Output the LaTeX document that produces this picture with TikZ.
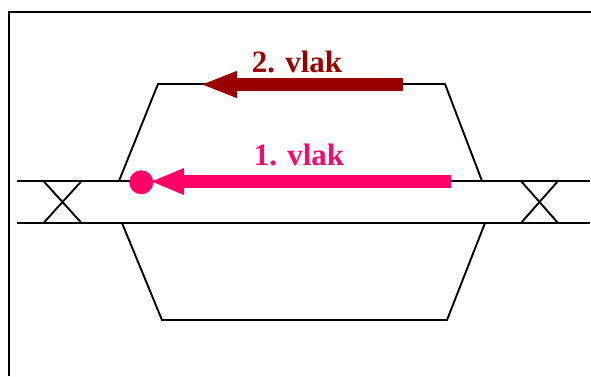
\documentclass[tikz,border=0pt]{standalone}
\usepackage{fontspec}
\setmainfont{Liberation Serif}
\usetikzlibrary{arrows.meta}
\definecolor{darkred}{HTML}{990000}
\definecolor{hotpink}{HTML}{FF0066}
\definecolor{labelpink}{HTML}{EC0F73}
\tikzset{
  trackline/.style={draw=black,line width=1.9pt},
  frameline/.style={draw=black,line width=2pt},
  trainarrow/.style={line width=13pt},
  trainhead2/.style={-{Triangle[length=37pt,width=24pt]}},
  trainhead1/.style={-{Triangle[length=34pt,width=24pt]}},
  trainlabel/.style={font=\fontsize{31pt}{32pt}\selectfont\bfseries,inner sep=0pt,anchor=base}
}
\begin{document}
\begin{tikzpicture}[x=1pt,y=-1pt]
\useasboundingbox (0,0) rectangle (591,376);
\fill[white] (0,0) rectangle (591,376);
% frame (runs off the picture to the right and below)
\coordinate (fa) at (9,376);
\coordinate (fb) at (9,12);
\coordinate (fc) at (591,12);
\draw[frameline] (fa) -- (fb) -- (fc);
% main tracks
\coordinate (tl) at (17,181);
\coordinate (tr) at (590,181);
\coordinate (bl) at (17,223);
\coordinate (br) at (590,223);
\draw[trackline] (tl) -- (tr);
\draw[trackline] (bl) -- (br);
% crossovers
\coordinate (xa) at (43.5,181);
\coordinate (xb) at (81.5,181);
\coordinate (xc) at (43.5,223);
\coordinate (xd) at (81.5,223);
\draw[trackline] (xa) -- (xd);
\draw[trackline] (xb) -- (xc);
\coordinate (ya) at (521,181);
\coordinate (yb) at (558,181);
\coordinate (yc) at (521,223);
\coordinate (yd) at (558,223);
\draw[trackline] (ya) -- (yd);
\draw[trackline] (yb) -- (yc);
% upper loop
\coordinate (ua) at (119,181);
\coordinate (ub) at (158,84);
\coordinate (uc) at (445,84);
\coordinate (ud) at (482,181);
\draw[trackline,line join=miter] (ua) -- (ub) -- (uc) -- (ud);
% lower loop
\coordinate (la) at (122,223);
\coordinate (lb) at (162,320);
\coordinate (lc) at (447,320);
\coordinate (ld) at (485,223);
\draw[trackline,line join=miter] (la) -- (lb) -- (lc) -- (ld);
% train 2
\coordinate (t2s) at (403,84.5);
\coordinate (t2e) at (200,84.5);
\draw[trainarrow,trainhead2,darkred] (t2s) -- (t2e);
\node[trainlabel,text=darkred] (l2) at (297,72.5) {2. vlak};
% train 1
\coordinate (t1s) at (451,181.5);
\coordinate (t1e) at (150,181.5);
\draw[trainarrow,trainhead1,hotpink] (t1s) -- (t1e);
\node[circle,fill=hotpink,minimum size=24pt,inner sep=0pt] (dot) at (141.3,182.3) {};
\node[trainlabel,text=labelpink] (l1) at (299,165.5) {1. vlak};
\end{tikzpicture}
\end{document}
